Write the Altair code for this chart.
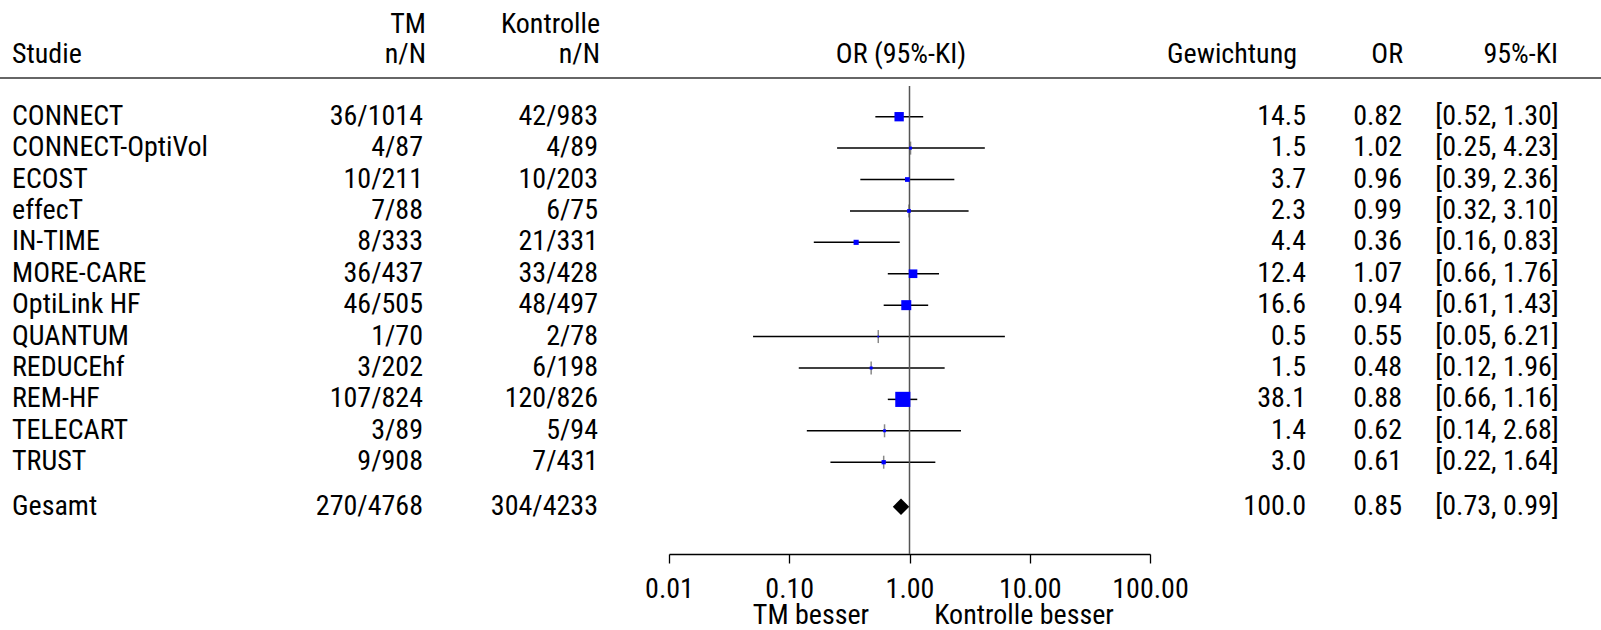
import altair as alt
import pandas as pd

FONT = "Roboto Condensed"
FS = 28

studies = ["CONNECT", "CONNECT-OptiVol", "ECOST", "effecT", "IN-TIME", "MORE-CARE",
           "OptiLink HF", "QUANTUM", "REDUCEhf", "REM-HF", "TELECART", "TRUST"]
tm_n = [36, 4, 10, 7, 8, 36, 46, 1, 3, 107, 3, 9]
tm_N = [1014, 87, 211, 88, 333, 437, 505, 70, 202, 824, 89, 908]
k_n = [42, 4, 10, 6, 21, 33, 48, 2, 6, 120, 5, 7]
k_N = [983, 89, 203, 75, 331, 428, 497, 78, 198, 826, 94, 431]
weight = [14.5, 1.5, 3.7, 2.3, 4.4, 12.4, 16.6, 0.5, 1.5, 38.1, 1.4, 3.0]
odds = [0.82, 1.02, 0.96, 0.99, 0.36, 1.07, 0.94, 0.55, 0.48, 0.88, 0.62, 0.61]
ci_lo = [0.52, 0.25, 0.39, 0.32, 0.16, 0.66, 0.61, 0.05, 0.12, 0.66, 0.14, 0.22]
ci_hi = [1.30, 4.23, 2.36, 3.10, 0.83, 1.76, 1.43, 6.21, 1.96, 1.16, 2.68, 1.64]

total_label = "Gesamt"
total_tm = (270, 4768)
total_k = (304, 4233)
total_weight = 100.0
total_or = 0.85
total_lo = 0.73
total_hi = 0.99

x_ticks = [0.01, 0.1, 1, 10, 100]

rows = list(range(len(studies)))
total_row = 12.42

df = pd.DataFrame({
    "study": studies,
    "row": rows,
    "tm": [f"{a}/{b}" for a, b in zip(tm_n, tm_N)],
    "k": [f"{a}/{b}" for a, b in zip(k_n, k_N)],
    "w": weight,
    "or": odds,
    "lo": ci_lo,
    "hi": ci_hi,
})
tot = pd.DataFrame({
    "study": [total_label],
    "row": [total_row],
    "tm": [f"{total_tm[0]}/{total_tm[1]}"],
    "k": [f"{total_k[0]}/{total_k[1]}"],
    "w": [total_weight],
    "or": [total_or],
    "lo": [total_lo],
    "hi": [total_hi],
})
alltab = pd.concat([df, tot], ignore_index=True)
alltab["wtxt"] = [f"{v:.1f}" for v in alltab["w"]]
alltab["ortxt"] = [f"{v:.2f}" for v in alltab["or"]]
alltab["citxt"] = [f"[{a:.2f}, {b:.2f}]" for a, b in zip(alltab["lo"], alltab["hi"])]

xscale = alt.Scale(type="log", domain=[0.01, 100], range=[669, 1150])
xaxis = alt.Axis(
    values=x_ticks, format=".2f", title=None, grid=False,
    tickSize=9, tickColor="black", tickWidth=1.3,
    domainColor="black", domainWidth=1.3,
    labelFont=FONT, labelFontSize=FS, labelColor="black",
    labelPadding=12, labelFlush=False, labelOverlap=False)
yscale = alt.Scale(domain=[0, 11], range=[116.7, 462.2], nice=False, zero=False)
Y = alt.Y("row:Q", scale=yscale, axis=None)


def X(field):
    return alt.X(f"{field}:Q", scale=xscale, axis=xaxis)


base = alt.Chart(df)

ci = base.mark_rule(color="black", strokeWidth=1.5).encode(
    x=X("lo"), x2="hi:Q", y=Y,
)

squares = base.mark_square(color="#0000FF", opacity=1).encode(
    x=X("or"),
    y=Y,
    size=alt.Size("w:Q", scale=alt.Scale(type="linear", domain=[0, 38.1], range=[0, 229]), legend=None),
)

small_ticks = base.transform_filter("datum.w < 3.5").mark_tick(
    color="#555", orient="vertical", size=13, thickness=1.5
).encode(x=X("or"), y=Y)

vline = alt.Chart(pd.DataFrame({"v": [1]})).mark_rule(color="#555", strokeWidth=1.5).encode(
    x=X("v"), y=alt.value(86), y2=alt.value(554),
)

diamond = alt.Chart(tot).mark_point(shape="diamond", filled=True, color="black", opacity=1, size=270).encode(
    x=X("or"), y=Y,
)

hline = alt.Chart(pd.DataFrame({"v": [0]})).mark_rule(color="#666", strokeWidth=2).encode(
    x=alt.value(0), x2=alt.value(1601), y=alt.value(78),
)


def col(field, xpx, align):
    return alt.Chart(alltab).mark_text(
        font=FONT, fontSize=FS, color="black", align=align, baseline="middle"
    ).encode(x=alt.value(xpx), y=Y, text=f"{field}:N")


cols = [
    col("study", 12, "left"),
    col("tm", 423, "right"),
    col("k", 598, "right"),
    col("wtxt", 1306, "right"),
    col("ortxt", 1402, "right"),
    col("citxt", 1497, "center"),
]


def htext(txt, xpx, ypx, align):
    return alt.Chart(pd.DataFrame({"t": [txt]})).mark_text(
        font=FONT, fontSize=FS, color="black", align=align, baseline="middle"
    ).encode(x=alt.value(xpx), y=alt.value(ypx), text="t:N")


headers = [
    htext("TM", 426, 25, "right"),
    htext("Kontrolle", 600, 25, "right"),
    htext("Studie", 12, 55, "left"),
    htext("n/N", 426, 55, "right"),
    htext("n/N", 600, 55, "right"),
    htext("OR (95%-KI)", 901, 55, "center"),
    htext("Gewichtung", 1297, 55, "right"),
    htext("OR", 1403, 55, "right"),
    htext("95%-KI", 1558, 55, "right"),
    htext("TM besser", 811, 616, "center"),
    htext("Kontrolle besser", 1024, 616, "center"),
]

chart = alt.layer(
    ci, hline, vline, small_ticks, squares, diamond, *cols, *headers
).properties(
    width=1601, height=554,
    padding={"left": 0, "top": 0, "right": 0, "bottom": 76},
    autosize="none",
    background="white",
).configure_view(stroke=None)

chart.save("out.html", embed_options={"renderer": "svg", "actions": False})
